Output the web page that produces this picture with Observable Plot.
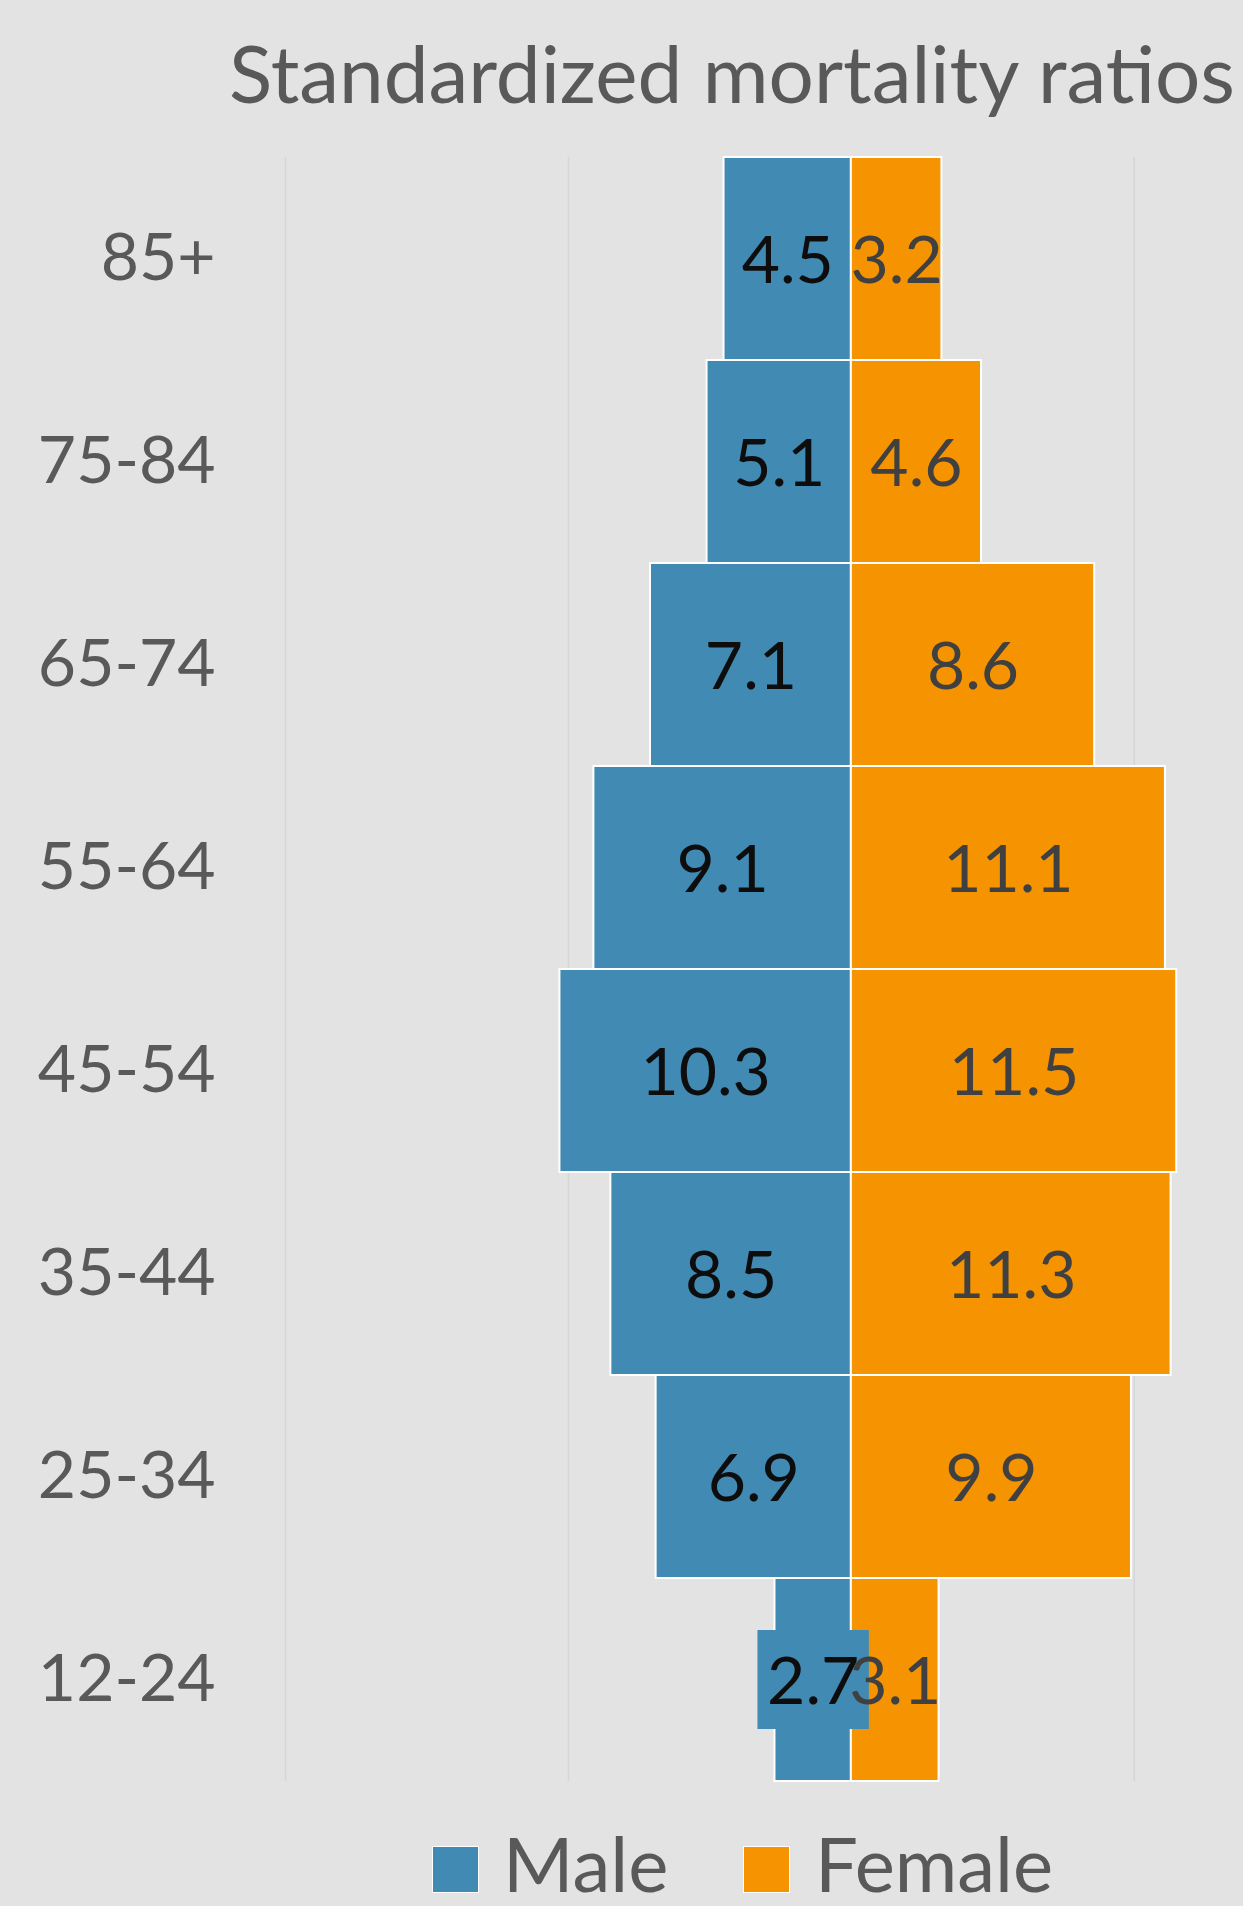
<!DOCTYPE html>
<html>
<head>
<meta charset="utf-8">
<script src="https://cdn.jsdelivr.net/npm/d3@7"></script>
<script src="https://cdn.jsdelivr.net/npm/@observablehq/plot@0.6"></script>
<style>
  html, body { margin: 0; padding: 0; background: #E3E3E3; }
  body { width: 1243px; height: 1906px; overflow: hidden; font-family: Lato, "Open Sans", sans-serif; }
  #title { position: relative; height: 130px; }
  #title span { position: absolute; right: 8px; top: 32px; font-size: 80px; color: #595959; line-height: 1; white-space: nowrap; }
  #chart svg { display: block; }
  #legend { position: relative; height: 86px; }
  .sw { position: absolute; top: 26px; width: 45px; height: 45px; border: 1px solid #fff; }
  .lt { position: absolute; top: 5px; font-size: 76px; line-height: 1; color: #595959; white-space: nowrap; }
</style>
</head>
<body>
<div id="title"><span>Standardized mortality ratios</span></div>
<div id="chart"></div>
<div id="legend"></div>
<script>
const ageGroups = ["85+", "75-84", "65-74", "55-64", "45-54", "35-44", "25-34", "12-24"];
const maleValues = [4.5, 5.1, 7.1, 9.1, 10.3, 8.5, 6.9, 2.7];
const femaleValues = [3.2, 4.6, 8.6, 11.1, 11.5, 11.3, 9.9, 3.1];
const seriesNames = ["Male", "Female"];
const seriesColors = ["#418AB3", "#F59400"];
const labelColors = ["#0D0D0D", "#404040"];
const gridTicks = [-20, -10, 0, 10];

const rows = [];
ageGroups.forEach((a, i) => {
  rows.push({age: a, sex: "Male", value: maleValues[i]});
  rows.push({age: a, sex: "Female", value: femaleValues[i]});
});
const signed = d => d.sex === "Male" ? -d.value : d.value;

const chart = Plot.plot({
  width: 1243,
  height: 1690,
  marginTop: 27,
  marginBottom: 39,
  marginLeft: 285,
  marginRight: 0,
  style: {background: "transparent", fontFamily: "Lato, 'Open Sans', sans-serif"},
  x: {domain: [-20, 13.86], axis: null},
  y: {domain: ageGroups, padding: 0},
  color: {domain: seriesNames, range: seriesColors},
  marks: [
    Plot.ruleX(gridTicks, {stroke: "#D6D6D6", strokeWidth: 1.5}),
    Plot.barX(rows, {
      y: "age",
      x1: d => Math.min(0, signed(d)),
      x2: d => Math.max(0, signed(d)),
      fill: "sex",
      stroke: "#FFFFFF",
      strokeWidth: 2,
      inset: 0
    }),
    Plot.barX(rows.filter(d => d.sex === "Male" && d.age === "12-24"), {
      y: "age",
      x1: d => signed(d),
      x2: 0,
      fill: "sex",
      insetTop: 52,
      insetBottom: 52,
      insetLeft: -17,
      insetRight: -18
    }),
    Plot.text(rows, {
      y: "age",
      x: d => signed(d) / 2,
      text: d => d.value.toFixed(1),
      fill: d => d.sex === "Male" ? labelColors[0] : labelColors[1],
      fontSize: 66,
      dy: 3,
      textAnchor: "middle"
    }),
    Plot.axisY({
      tickSize: 0,
      tickPadding: 70,
      fontSize: 66,
      color: "#595959",
      label: null
    })
  ]
});
document.getElementById("chart").appendChild(chart);

const legend = document.getElementById("legend");
const legendPos = [[432, 503], [743, 815]];
seriesNames.forEach((name, i) => {
  const sw = document.createElement("div");
  sw.className = "sw";
  sw.style.left = legendPos[i][0] + "px";
  sw.style.background = seriesColors[i];
  legend.appendChild(sw);
  const t = document.createElement("div");
  t.className = "lt";
  t.style.left = legendPos[i][1] + "px";
  t.textContent = name;
  legend.appendChild(t);
});
</script>
</body>
</html>
